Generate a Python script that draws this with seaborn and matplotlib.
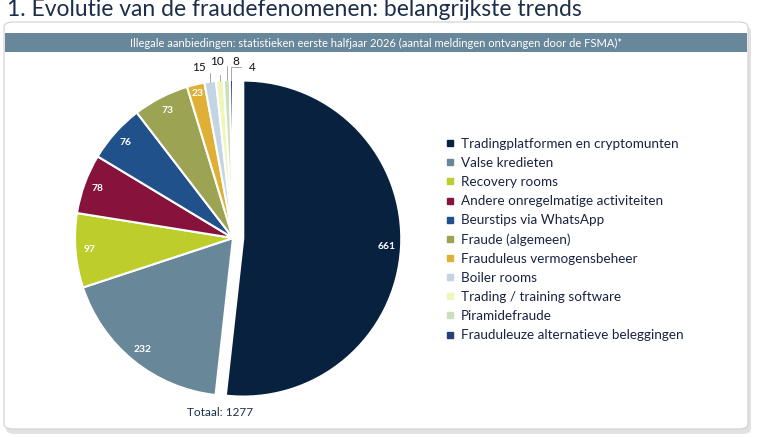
import matplotlib
matplotlib.use("Agg")
import matplotlib.pyplot as plt
import seaborn as sns
import numpy as np
from matplotlib.patches import FancyBboxPatch, Rectangle
from matplotlib.lines import Line2D

sns.set_theme(style="white")
plt.rcParams['font.family'] = ['Lato', 'DejaVu Sans']

categories = [
    "Tradingplatformen en cryptomunten",
    "Valse kredieten",
    "Recovery rooms",
    "Andere onregelmatige activiteiten",
    "Beurstips via WhatsApp",
    "Fraude (algemeen)",
    "Frauduleus vermogensbeheer",
    "Boiler rooms",
    "Trading / training software",
    "Piramidefraude",
    "Frauduleuze alternatieve beleggingen",
]
values = [661, 232, 97, 78, 76, 73, 23, 15, 10, 8, 4]
colors = ["#07213f", "#68889a", "#bccd2c", "#87133d", "#20518a", "#9ca352",
          "#e0b036", "#c3d5e4", "#f0f5b8", "#cce0bc", "#27407a"]
title = "1. Evolutie van de fraudefenomenen: belangrijkste trends"
header = "Illegale aanbiedingen: statistieken eerste halfjaar 2026 (aantal meldingen ontvangen door de FSMA)*"
total_label = "Totaal: " + str(sum(values))

W, H = 765, 437
fig = plt.figure(figsize=(W / 100, H / 100), dpi=100)
fig.patch.set_facecolor("white")

def fx(px):
    return px / W

def fy(py):
    return 1 - py / H

# panel shadow and panel
shadow = FancyBboxPatch((fx(6), fy(434)), fx(745), fy(26) - fy(434),
                        boxstyle="round,pad=0,rounding_size=0.012",
                        transform=fig.transFigure, facecolor="#e2e2e2",
                        edgecolor="none", zorder=0)
fig.patches.append(shadow)
panel = FancyBboxPatch((fx(4), fy(429)), fx(744), fy(22) - fy(429),
                       boxstyle="round,pad=0,rounding_size=0.012",
                       transform=fig.transFigure, facecolor="white",
                       edgecolor="#d0d0d0", linewidth=0.8, zorder=1)
fig.patches.append(panel)
bar = Rectangle((fx(5), fy(52)), fx(742), fy(33) - fy(52),
                transform=fig.transFigure, facecolor="#68879a",
                edgecolor="none", zorder=2)
fig.patches.append(bar)
fig.text(fx(376), fy(43), header, ha="center", va="center", color="white",
         fontsize=8, zorder=3)
fig.text(fx(7), fy(16), title, ha="left", va="baseline", color="#1c2e4a",
         fontsize=16.5, zorder=3)

# pie axes
R = 158
cx, cy = 233, 238
lim = 1.25
size = 2 * lim * R
ax = fig.add_axes([fx(cx - size / 2), fy(cy + size / 2), fx(size), size / H])
ax.set_zorder(4)
ax.patch.set_alpha(0)
explode = [0.065] + [0] * (len(values) - 1)
wedges, texts = ax.pie(values, colors=colors, startangle=90, counterclock=False,
                       explode=explode, radius=1,
                       wedgeprops=dict(edgecolor="white", linewidth=1.5))
ax.set_xlim(-lim, lim)
ax.set_ylim(-lim, lim)
ax.set_aspect("equal")
ax.axis("off")

small_offsets = {7: (-0.215, 1.08), 8: (-0.10, 1.12), 9: (0.02, 1.12), 10: (0.125, 1.08)}
for i, (w, v) in enumerate(zip(wedges, values)):
    ang = np.deg2rad((w.theta1 + w.theta2) / 2)
    c = w.center
    if i in small_offsets:
        px_, py_ = c[0] + np.cos(ang) * 1.0, c[1] + np.sin(ang) * 1.0
        lx, ly = small_offsets[i]
        ax.annotate(str(v), xy=(px_, py_), xytext=(lx, ly), ha="center",
                    va="center", fontsize=8.5, color="#111111",
                    arrowprops=dict(arrowstyle="-", color="#9a9a9a", lw=0.6,
                                    shrinkA=4, shrinkB=0,
                                    connectionstyle="angle,angleA=0,angleB=90,rad=0"))
    else:
        d = 0.91 if i < 6 else 0.94
        ax.text(c[0] + np.cos(ang) * d, c[1] + np.sin(ang) * d, str(v),
                ha="center", va="center", color="white", fontsize=7.5,
                fontweight="bold")

fig.text(fx(220), fy(412), total_label, ha="center", va="center",
         color="#1c2e4a", fontsize=8.5, zorder=5)

handles = [Line2D([0], [0], marker="s", linestyle="none", markersize=5,
                  markerfacecolor=col, markeredgecolor=col) for col in colors]
leg = fig.legend(handles, categories, loc="upper left",
                 bbox_to_anchor=(fx(445), fy(138)), frameon=False,
                 fontsize=9.7, handlelength=0.75, handletextpad=0.45,
                 labelspacing=0.525, borderaxespad=0, borderpad=0)
for t in leg.get_texts():
    t.set_color("#1a2340")

fig.savefig("out.png", dpi=100, facecolor="white")
